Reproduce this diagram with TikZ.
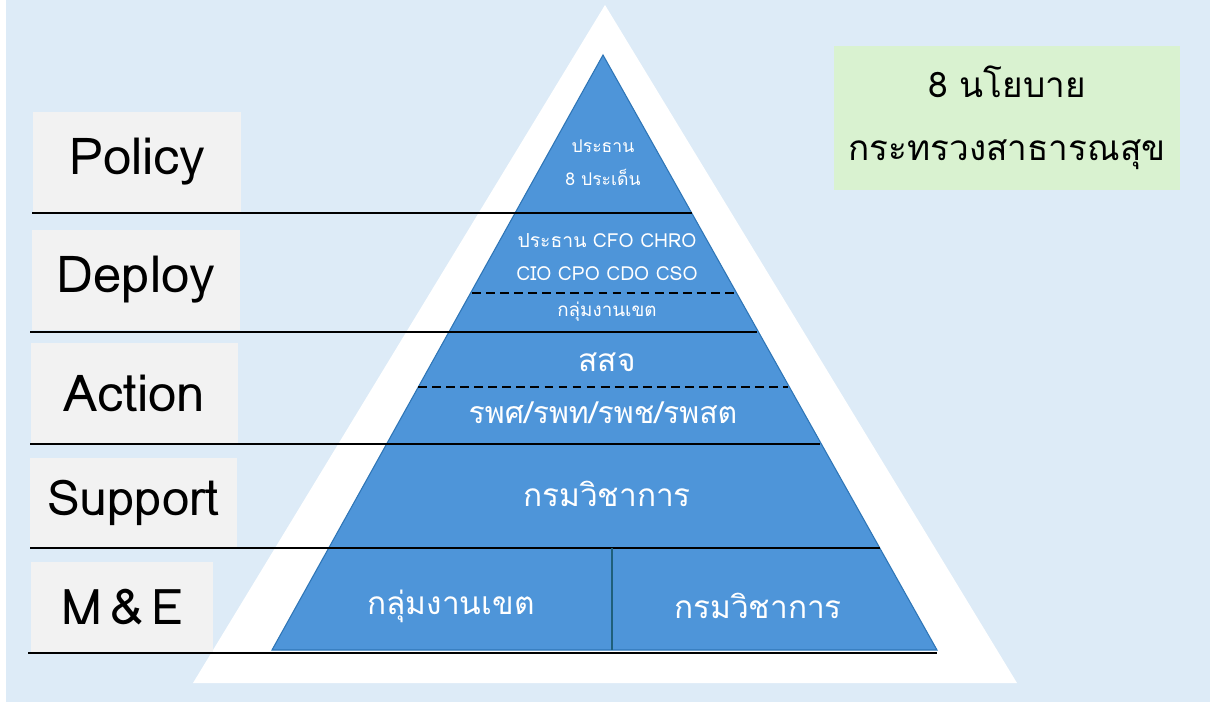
\documentclass[tikz,border=0pt]{standalone}
\usepackage{fontspec}
\newfontfamily\thaifont[Script=Thai]{Loma}
\definecolor{bgblue}{HTML}{DDEBF7}
\definecolor{pyrblue}{HTML}{4E95D9}
\definecolor{pyredge}{HTML}{2E75B6}
\definecolor{boxgray}{HTML}{F2F2F2}
\definecolor{boxgreen}{HTML}{D9F2D0}
\definecolor{splitline}{HTML}{1F5F7A}
\begin{document}
\begin{tikzpicture}[x=0.02cm,y=-0.02cm,
    lvlbox/.style={fill=boxgray,inner sep=0pt,font=\thaifont\fontsize{29}{30}\selectfont},
    intext/.style={text=white,align=center,font=\thaifont\fontsize{#1}{#1}\selectfont},
    cutline/.style={line width=.9pt},
    halfline/.style={line width=1.7pt,dash pattern=on 5pt off 3pt}]
    \useasboundingbox (0,0) rectangle (1210,702);
    \fill[bgblue] (6,0) rectangle (1210,702);
    % white and blue triangles
    \fill[white] (605,5)--(1017,683)--(193,683)--cycle;
    \filldraw[fill=pyrblue,draw=pyredge,line width=.6pt] (603,55)--(937,650)--(272,650)--cycle;
    % level boxes
    \node[lvlbox,minimum width=4.16cm,minimum height=2cm] (policy) at (137,162) {Policy};
    \node[lvlbox,minimum width=4.16cm,minimum height=2.02cm] (deploy) at (136,280) {Deploy};
    \node[lvlbox,minimum width=4.14cm,minimum height=2cm] (action) at (134.5,393) {Action};
    \node[lvlbox,minimum width=4.14cm,minimum height=1.78cm,font=\thaifont\fontsize{28}{30}\selectfont] (support) at (133.5,502.5) {Support};
    \node[lvlbox,minimum width=3.64cm,minimum height=1.8cm,font=\thaifont\fontsize{28}{30}\selectfont] (mne) at (122,607) {M\,\&\,E};
    % goal box
    \node[fill=boxgreen,minimum width=6.92cm,minimum height=2.9cm,align=center,
        font=\thaifont\fontsize{20}{36}\selectfont] (goal) at (1007,118) {8 นโยบาย\\กระทรวงสาธารณสุข};
    % level lines
    \draw[line width=1.4pt] (32,213)--(692,213);
    \draw[cutline] (30,332)--(757,332);
    \draw[cutline] (30,444)--(820,444);
    \draw[cutline] (30,548)--(880,548);
    \draw[cutline] (28,653)--(937,653);
    \draw[halfline] (472,293)--(737,293);
    \draw[halfline] (418,387)--(788,387);
    \draw[splitline,line width=1.2pt] (612,548)--(612,650);
    % pyramid texts
    \node[intext=10] (chair) at (603,163) {ประธาน\\[9pt]8 ประเด็น};
    \node[intext=11] (chief) at (607,257) {ประธาน CFO CHRO\\[8pt]CIO CPO CDO CSO};
    \node[intext=10.7] (zone) at (607,312) {กลุ่มงานเขต};
    \node[intext=18] (ssj) at (607,362) {สสจ};
    \node[intext=17.2] (hosp) at (603,413) {รพศ/รพท/รพช/รพสต};
    \node[intext=18] (dept) at (607,494) {กรมวิชาการ};
    \node[intext=18] (zonebig) at (451,606) {กลุ่มงานเขต};
    \node[intext=18] (deptbig) at (758,606) {กรมวิชาการ};
\end{tikzpicture}
\end{document}
